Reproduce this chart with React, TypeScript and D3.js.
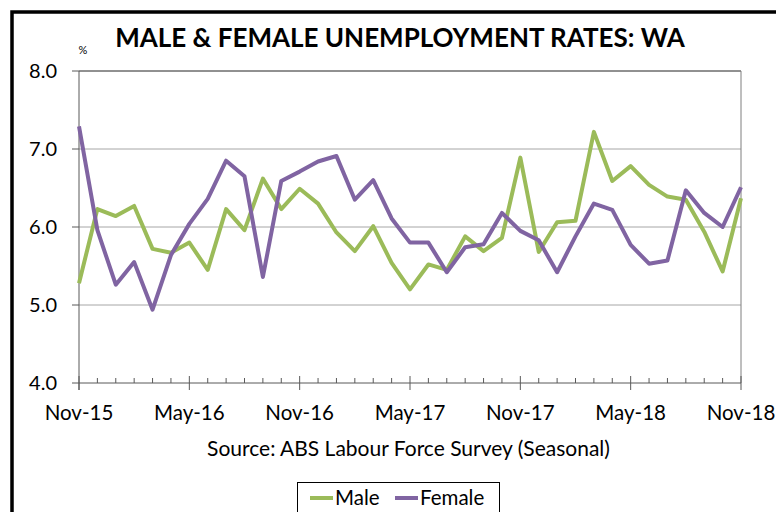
import React from "react";
import * as d3 from "d3";

const title = "MALE & FEMALE UNEMPLOYMENT RATES: WA";
const source = "Source: ABS Labour Force Survey (Seasonal)";
const months = d3.timeMonth.range(new Date(2015, 10, 1), new Date(2018, 11, 1));
const male = [5.28, 6.23, 6.14, 6.27, 5.72, 5.67, 5.80, 5.45, 6.23, 5.96, 6.62, 6.23, 6.49,
  6.30, 5.93, 5.69, 6.01, 5.54, 5.20, 5.52, 5.45, 5.88, 5.69, 5.86, 6.89,
  5.68, 6.06, 6.08, 7.22, 6.59, 6.78, 6.54, 6.39, 6.35, 5.94, 5.43, 6.37];
const female = [7.29, 5.96, 5.26, 5.55, 4.94, 5.64, 6.04, 6.36, 6.85, 6.65, 5.36, 6.59, 6.71,
  6.84, 6.91, 6.35, 6.60, 6.11, 5.80, 5.80, 5.42, 5.74, 5.78, 6.18, 5.95,
  5.83, 5.42, 5.88, 6.30, 6.22, 5.77, 5.53, 5.57, 6.47, 6.18, 6.00, 6.51];
const yTicks = [4, 5, 6, 7, 8];
const series = [
  { name: "Male", values: male, color: "#9BBB59" },
  { name: "Female", values: female, color: "#8064A2" },
];

const FONT = "Lato, 'Open Sans', sans-serif";

export default function App() {
  const W = 776, H = 512;
  const x0 = 79, x1 = 741, yTop = 71, yBot = 383;
  const x = d3.scaleLinear().domain([0, months.length - 1]).range([x0, x1]);
  const y = d3.scaleLinear().domain([4, 8]).range([yBot, yTop]);
  const fmt = d3.timeFormat("%b-%y");
  const line = d3.line<number>().x((_, i) => x(i)).y((d) => y(d));
  const idx = d3.range(months.length);
  const majors = idx.filter((i) => i % 6 === 0);

  return (
    <svg width={W} height={H} style={{ position: "fixed", left: 0, top: 0, background: "#fff" }}
      fontFamily={FONT}>
      <rect x={0} y={0} width={W} height={H} fill="#fff" />
      <rect x={12} y={12} width={820} height={600} fill="none" stroke="#000" strokeWidth={3.5} />
      <text x={400} y={47} textAnchor="middle" fontSize={26} fontWeight="bold" fill="#000">{title}</text>
      <text x={83} y={54} textAnchor="middle" fontSize={11} fill="#000">%</text>
      {yTicks.map((t) => (
        <g key={t}>
          {t > 4 && t < 8 && <line x1={x0} x2={x1} y1={y(t)} y2={y(t)} stroke="#A6A6A6" strokeWidth={1} />}
          <line x1={72} x2={x0} y1={y(t)} y2={y(t)} stroke="#595959" strokeWidth={1} />
          <text x={57} y={y(t) + 7} textAnchor="end" fontSize={20} fill="#000">{t.toFixed(1)}</text>
        </g>
      ))}
      <line x1={x0} x2={x1} y1={yTop} y2={yTop} stroke="#222" strokeWidth={1} />
      <line x1={x1} x2={x1} y1={yTop} y2={yBot} stroke="#7F7F7F" strokeWidth={1} />
      <line x1={x0} x2={x0} y1={yTop} y2={yBot + 7} stroke="#595959" strokeWidth={1} />
      <line x1={x0} x2={x1} y1={yBot} y2={yBot} stroke="#595959" strokeWidth={1} />
      {idx.map((i) =>
        i % 6 === 0 ? (
          <line key={i} x1={x(i)} x2={x(i)} y1={yBot - 7} y2={yBot + 7} stroke="#595959" strokeWidth={1} />
        ) : (
          <line key={i} x1={x(i)} x2={x(i)} y1={yBot - 5} y2={yBot} stroke="#595959" strokeWidth={1} />
        )
      )}
      {majors.map((i) => (
        <text key={i} x={x(i)} y={420} textAnchor="middle" fontSize={20.5} fill="#000">{fmt(months[i])}</text>
      ))}
      <text x={408.5} y={456} textAnchor="middle" fontSize={21} fill="#000">{source}</text>
      {series.map((s) => (
        <path key={s.name} d={line(s.values) || ""} fill="none" stroke={s.color} strokeWidth={4}
          strokeLinejoin="round" />
      ))}
      <rect x={297.5} y={482.5} width={202} height={40} fill="#fff" stroke="#000" strokeWidth={1} />
      {series.map((s, k) => {
        const lx = k === 0 ? 310 : 395;
        return (
          <g key={s.name}>
            <line x1={lx} x2={lx + 23} y1={498} y2={498} stroke={s.color} strokeWidth={4} />
            <text x={lx + 25} y={505} fontSize={20.5} fill="#000">{s.name}</text>
          </g>
        );
      })}
    </svg>
  );
}
